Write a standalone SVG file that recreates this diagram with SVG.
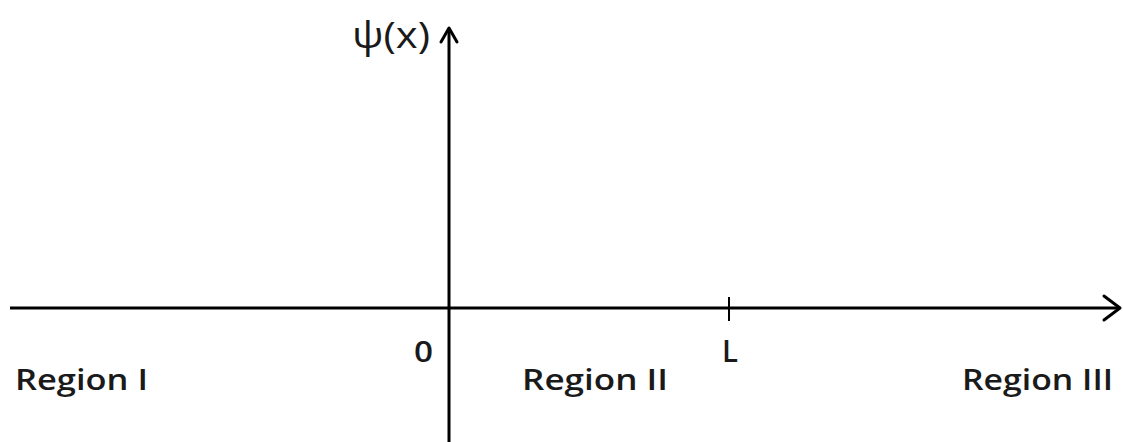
<svg xmlns="http://www.w3.org/2000/svg" width="1123" height="442" viewBox="0 0 1123 442">
<style>
.ax{stroke:#000;stroke-width:3;fill:none}
.ah{stroke:#000;stroke-width:3;fill:none;stroke-linecap:round;stroke-linejoin:round}
.t{font-family:"Open Sans","Liberation Sans",sans-serif;font-size:29px;font-weight:600;fill:#1a1a1a}
</style>
<rect width="1123" height="442" fill="#fff"/>
<g id="axes">
<line class="ax" x1="10" y1="308" x2="1119" y2="308"/>
<polyline class="ah" points="1104,296 1120,308 1104,320"/>
<line class="ax" x1="449" y1="442" x2="449" y2="30"/>
<polyline class="ah" points="441,42 449,28 457,42"/>
<line class="ax" x1="729" y1="297" x2="729" y2="321" style="stroke-width:2"/>
</g>
<g id="labels">
<text class="t" x="352" y="48" style="font-size:37px;font-weight:400" textLength="78" lengthAdjust="spacingAndGlyphs">ψ(x)</text>
<text class="t" x="414" y="362" textLength="19" lengthAdjust="spacingAndGlyphs">0</text>
<text class="t" x="722" y="362" style="font-size:31px" textLength="16" lengthAdjust="spacingAndGlyphs">L</text>
<text class="t" x="15" y="390" textLength="133" lengthAdjust="spacingAndGlyphs">Region I</text>
<text class="t" x="522" y="390" textLength="146" lengthAdjust="spacingAndGlyphs">Region II</text>
<text class="t" x="962" y="390" textLength="151" lengthAdjust="spacingAndGlyphs">Region III</text>
</g>
</svg>
